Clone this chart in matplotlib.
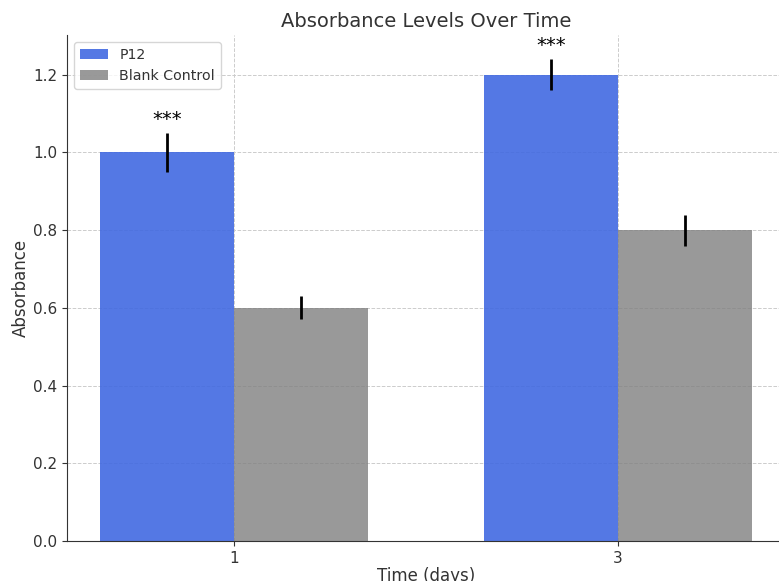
import matplotlib
matplotlib.use("Agg")
import matplotlib.pyplot as plt
import numpy as np

days = ["1", "3"]
p12_values = [1.0, 1.2]
p12_errors = [0.05, 0.04]
control_values = [0.6, 0.8]
control_errors = [0.03, 0.04]
significance = ["***", "***"]

plt.rcParams['text.color'] = '#333333'
plt.rcParams['axes.labelcolor'] = '#333333'
plt.rcParams['xtick.color'] = '#333333'
plt.rcParams['ytick.color'] = '#333333'

fig = plt.figure(figsize=(7.79, 5.81), dpi=100)
W, H = 779, 581
left, right, top, bottom = 67, 785, 35, 541
ax = fig.add_axes([left / W, (H - bottom) / H, (right - left) / W, (bottom - top) / H])

x = np.arange(len(days))
width = 0.35
ax.bar(x - width / 2, p12_values, width, yerr=p12_errors, color='royalblue', alpha=0.9,
       label='P12', error_kw=dict(ecolor='black', elinewidth=2, capsize=0), zorder=2)
ax.bar(x + width / 2, control_values, width, yerr=control_errors, color='grey', alpha=0.8,
       label='Blank Control', error_kw=dict(ecolor='black', elinewidth=2, capsize=0), zorder=2)

for i in range(len(days)):
    ax.text(x[i] - width / 2, p12_values[i] + p12_errors[i] + 0.01, significance[i],
            ha='center', va='bottom', fontsize=14, color='black')

ax.set_xticks(x)
ax.set_xticklabels(days)
ax.set_xlabel('Time (days)', fontsize=12, labelpad=1)
ax.set_ylabel('Absorbance', fontsize=12, labelpad=2.5)
ax.set_title('Absorbance Levels Over Time', fontsize=14)
ax.tick_params(labelsize=11)
ax.grid(True, linestyle='--', color='#cccccc', linewidth=0.7, zorder=0)
ax.set_axisbelow(True)
ax.spines['top'].set_visible(False)
ax.spines['right'].set_visible(False)
ax.spines['left'].set_color('#333333')
ax.spines['bottom'].set_color('#333333')
ax.legend(loc='upper left', fontsize=10.2)

fig.savefig('out.png', dpi=100)
